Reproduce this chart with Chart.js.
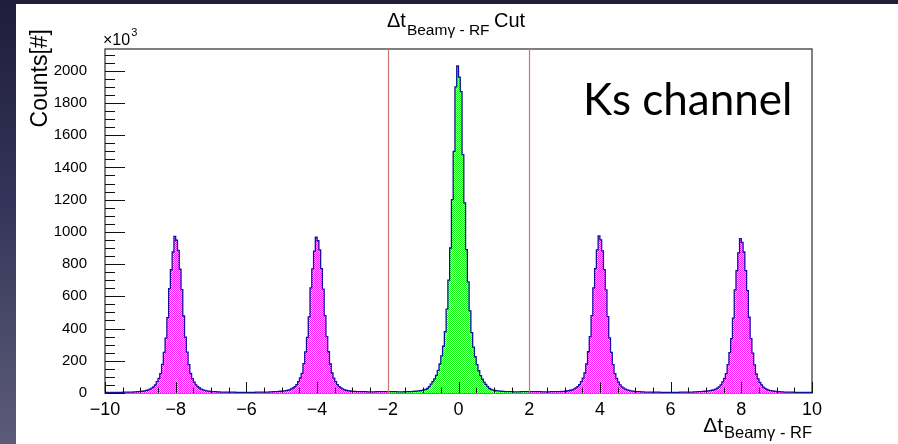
<!DOCTYPE html>
<html lang="en">
  <head>
    <meta charset="UTF-8" />
    <title>Delta t Beam-RF Cut</title>
    <script src="https://cdn.jsdelivr.net/npm/chart.js@4.4.0/dist/chart.umd.min.js"></script>
    <style>
      html, body { margin: 0; padding: 0; }
      body {
        width: 898px; height: 444px; position: relative; overflow: hidden;
        background: linear-gradient(to bottom, #1e1d3a 0%, #34345a 45%, #5c5c78 100%);
      }
      #panel { position: absolute; left: 16px; top: 4px; right: 0; bottom: 0; background: #fff; }
      #myChart { position: absolute; left: 0; top: 0; }
    </style>
  </head>
  <body>
    <div id="panel"></div>
    <canvas id="myChart" width="898" height="444"></canvas>

    <script>
      // histogram: 400 bins of 0.05 from -10 to 10
      const binLow = -10;
      const binWidth = 0.05;
      const cutLow = -2;
      const cutHigh = 2;
      const xTicks = [-10, -8, -6, -4, -2, 0, 2, 4, 6, 8, 10];
      const yTicks = [0, 200, 400, 600, 800, 1000, 1200, 1400, 1600, 1800, 2000];
      const yMax = 2135;

      // counts in units of 10^3
      const counts = [
        // -10 .. -8
        3, 3, 2, 3, 3, 4, 3, 4, 4, 4,
        5, 5, 5, 6, 6, 6, 7, 7, 8, 9,
        10, 11, 13, 16, 19, 24, 30, 38, 51, 70,
        91, 120, 178, 252, 340, 468, 648, 765, 875, 972,
        // -8 .. -6
        948, 885, 768, 642, 478, 346, 254, 176, 121, 89,
        68, 51, 39, 31, 24, 19, 16, 13, 12, 10,
        9, 8, 8, 7, 7, 6, 6, 6, 5, 5,
        5, 5, 5, 5, 4, 4, 4, 4, 4, 4,
        // -6 .. -4
        4, 4, 4, 4, 4, 5, 5, 5, 5, 5,
        6, 6, 6, 7, 7, 8, 8, 9, 10, 11,
        12, 13, 15, 17, 20, 25, 31, 39, 52, 71,
        93, 122, 182, 255, 345, 472, 652, 770, 880, 968,
        // -4 .. -2
        945, 888, 772, 645, 480, 350, 256, 180, 124, 92,
        70, 52, 40, 32, 25, 20, 17, 14, 13, 11,
        10, 10, 9, 9, 8, 8, 8, 8, 7, 7,
        7, 7, 7, 8, 8, 8, 8, 8, 9, 9,
        // -2 .. 0
        9, 8, 8, 8, 8, 7, 7, 7, 7, 8,
        8, 8, 9, 9, 10, 11, 12, 13, 14, 16,
        19, 22, 28, 40, 55, 70, 88, 110, 140, 180,
        230, 290, 380, 520, 700, 900, 1200, 1500, 1900, 2030,
        // 0 .. 2
        1960, 1870, 1480, 1180, 890, 690, 510, 375, 285, 225,
        176, 138, 108, 86, 68, 53, 39, 28, 22, 18,
        16, 14, 13, 12, 11, 10, 9, 9, 8, 8,
        8, 7, 7, 7, 7, 8, 8, 8, 8, 9,
        // 2 .. 4
        9, 9, 8, 8, 8, 8, 8, 7, 7, 7,
        7, 7, 8, 8, 8, 8, 9, 9, 10, 10,
        11, 13, 14, 17, 20, 25, 32, 40, 52, 70,
        92, 124, 180, 256, 350, 480, 652, 772, 888, 975,
        // 4 .. 6
        950, 882, 766, 640, 474, 342, 252, 176, 120, 90,
        68, 50, 38, 30, 24, 19, 16, 13, 12, 10,
        9, 8, 8, 7, 7, 6, 6, 6, 5, 5,
        5, 5, 5, 5, 4, 4, 4, 4, 4, 4,
        // 6 .. 8
        4, 4, 4, 4, 4, 5, 5, 5, 5, 5,
        6, 6, 6, 7, 7, 8, 8, 9, 10, 11,
        12, 13, 15, 17, 20, 24, 30, 38, 51, 69,
        90, 120, 176, 250, 338, 465, 640, 760, 870, 958,
        // 8 .. 10
        935, 875, 760, 635, 470, 338, 248, 174, 118, 88,
        66, 50, 37, 29, 23, 18, 15, 13, 11, 10,
        9, 8, 7, 7, 6, 6, 6, 5, 5, 5,
        4, 4, 4, 4, 3, 3, 3, 3, 3, 3
      ];

      const FONT = '"Liberation Sans", Arial, sans-serif';
      const LINE = '#10109a';

      // step points for bins [i0, i1)
      function stepPoints(i0, i1) {
        const pts = [];
        for (let i = i0; i < i1; i++) {
          pts.push({ x: binLow + i * binWidth, y: counts[i] });
        }
        pts.push({ x: binLow + i1 * binWidth, y: counts[i1 - 1] });
        return pts;
      }

      function dotted(ctx, c1, c2) {
        const p = document.createElement('canvas');
        p.width = 2; p.height = 2;
        const g = p.getContext('2d');
        g.fillStyle = c2; g.fillRect(0, 0, 2, 2);
        g.fillStyle = c1; g.fillRect(0, 0, 1, 1); g.fillRect(1, 1, 1, 1);
        return ctx.createPattern(p, 'repeat');
      }

      const rootStyle = {
        id: 'rootStyle',
        beforeDatasetsDraw(chart) {
          const { ctx, chartArea: a } = chart;
          ctx.save();
          ctx.strokeStyle = '#4a4a4a';
          ctx.lineWidth = 1.4;
          ctx.strokeRect(a.left, a.top, a.right - a.left, a.bottom - a.top);
          ctx.restore();
        },
        afterDatasetsDraw(chart) {
          const { ctx, chartArea: a, scales: { x, y } } = chart;
          ctx.save();
          ctx.strokeStyle = '#111';
          ctx.lineWidth = 1;
          ctx.beginPath();
          for (let v = -10; v <= 10; v += 0.5) {
            const px = Math.round(x.getPixelForValue(v)) + 0.5;
            const len = v % 2 === 0 ? 11 : 5.5;
            ctx.moveTo(px, a.bottom);
            ctx.lineTo(px, a.bottom - len);
          }
          for (let v = 0; v <= yMax; v += 50) {
            const py = Math.round(y.getPixelForValue(v)) + 0.5;
            const len = v % 200 === 0 ? 20 : 10;
            ctx.moveTo(a.left, py);
            ctx.lineTo(a.left + len, py);
          }
          ctx.stroke();

          // cut lines
          ctx.strokeStyle = '#cf7474';
          ctx.lineWidth = 1.2;
          ctx.beginPath();
          [cutLow, cutHigh].forEach(c => {
            const px = Math.round(x.getPixelForValue(c)) + 0.5;
            ctx.moveTo(px, a.top);
            ctx.lineTo(px, a.bottom);
          });
          ctx.stroke();
          ctx.restore();
        },
        afterDraw(chart) {
          const { ctx, chartArea: a } = chart;
          ctx.save();
          ctx.fillStyle = '#000';
          ctx.textBaseline = 'alphabetic';

          // title
          ctx.font = '20px ' + FONT;
          ctx.fillText('\u0394t', 387, 27);
          let w = ctx.measureText('\u0394t').width;
          ctx.font = '15.5px ' + FONT;
          ctx.fillText('Beam\u03b3 - RF', 387 + w + 1, 35);
          ctx.font = '20px ' + FONT;
          ctx.fillText('Cut', 494, 27);

          // x title
          ctx.font = '16.5px ' + FONT;
          const sub = 'Beam\u03b3 - RF';
          const sw = ctx.measureText(sub).width;
          ctx.fillText(sub, a.right - sw, 438);
          ctx.font = '21px ' + FONT;
          ctx.textAlign = 'right';
          ctx.fillText('\u0394t', a.right - sw - 1, 432);

          // y title
          ctx.save();
          ctx.translate(47, 29);
          ctx.rotate(-Math.PI / 2);
          ctx.font = '23px ' + FONT;
          ctx.textAlign = 'right';
          ctx.fillText('Counts[#]', 0, 0);
          ctx.restore();

          // exponent
          ctx.textAlign = 'left';
          ctx.font = '16px ' + FONT;
          ctx.fillText('\u00d710', 103, 45);
          w = ctx.measureText('\u00d710').width;
          ctx.font = '11px ' + FONT;
          ctx.fillText('3', 103 + w + 1, 36);

          // label
          ctx.font = '44px Lato, "Open Sans", sans-serif';
          ctx.fillText('Ks channel', 583, 115);
          ctx.restore();
        }
      };

      window.addEventListener('load', setup);

      function setup() {
        const ctx = document.getElementById('myChart').getContext('2d');
        const lo = Math.round((cutLow - binLow) / binWidth);
        const hi = Math.round((cutHigh - binLow) / binWidth);
        const pink = dotted(ctx, '#ff10ff', '#ffd6ff');
        const green = dotted(ctx, '#10ff10', '#d6ffd6');

        const base = {
          stepped: true,
          fill: 'origin',
          borderColor: LINE,
          borderWidth: 1.3,
          pointRadius: 0
        };

        new Chart(ctx, {
          type: 'line',
          data: {
            datasets: [
              Object.assign({ label: 'left', data: stepPoints(0, lo), backgroundColor: pink }, base),
              Object.assign({ label: 'cut', data: stepPoints(lo, hi), backgroundColor: green }, base),
              Object.assign({ label: 'right', data: stepPoints(hi, counts.length), backgroundColor: pink }, base)
            ]
          },
          options: {
            responsive: false,
            animation: false,
            layout: { padding: { top: 49, right: 86, left: 0, bottom: 0 } },
            plugins: { legend: { display: false }, tooltip: { enabled: false } },
            scales: {
              x: {
                type: 'linear',
                min: xTicks[0],
                max: xTicks[xTicks.length - 1],
                afterFit: s => { s.height = 51; },
                afterBuildTicks: s => { s.ticks = xTicks.map(v => ({ value: v })); },
                grid: { display: false, drawTicks: false },
                border: { display: false },
                ticks: {
                  autoSkip: false,
                  maxRotation: 0,
                  padding: 6,
                  color: '#000',
                  font: { family: FONT, size: 18 },
                  callback: v => String(v).replace('-', '\u2212')
                }
              },
              y: {
                type: 'linear',
                min: 0,
                max: yMax,
                afterFit: s => { s.width = 105; },
                afterBuildTicks: s => { s.ticks = yTicks.map(v => ({ value: v })); },
                grid: { display: false, drawTicks: false },
                border: { display: false },
                ticks: {
                  autoSkip: false,
                  padding: 18,
                  color: '#000',
                  font: { family: FONT, size: 15 },
                  callback: v => String(v)
                }
              }
            }
          },
          plugins: [rootStyle]
        });
      }
    </script>
  </body>
</html>
